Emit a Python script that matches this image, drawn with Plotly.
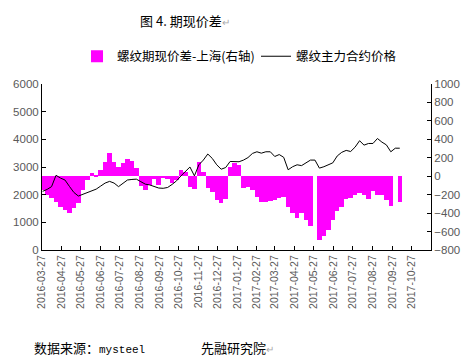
import plotly.graph_objects as go

dates = [
    "2016-03-28", "2016-04-04", "2016-04-11", "2016-04-18", "2016-04-25", "2016-05-02", "2016-05-09", "2016-05-16",
    "2016-05-23", "2016-05-30", "2016-06-06", "2016-06-13", "2016-06-20", "2016-06-27", "2016-07-04", "2016-07-11",
    "2016-07-18", "2016-07-25", "2016-08-01", "2016-08-08", "2016-08-15", "2016-08-22", "2016-08-29", "2016-09-05",
    "2016-09-12", "2016-09-19", "2016-09-26", "2016-10-03", "2016-10-10", "2016-10-17", "2016-10-24", "2016-10-31",
    "2016-11-07", "2016-11-14", "2016-11-21", "2016-11-28", "2016-12-05", "2016-12-12", "2016-12-19", "2016-12-26",
    "2017-01-02", "2017-01-09", "2017-01-16", "2017-01-23", "2017-01-30", "2017-02-06", "2017-02-13", "2017-02-20",
    "2017-02-27", "2017-03-06", "2017-03-13", "2017-03-20", "2017-03-27", "2017-04-03", "2017-04-10", "2017-04-17",
    "2017-04-24", "2017-05-01", "2017-05-08", "2017-05-15", "2017-05-22", "2017-05-29", "2017-06-05", "2017-06-12",
    "2017-06-19", "2017-06-26", "2017-07-03", "2017-07-10", "2017-07-17", "2017-07-24", "2017-07-31", "2017-08-07",
    "2017-08-14", "2017-08-21", "2017-08-28", "2017-09-04", "2017-09-11", "2017-09-18", "2017-09-25", "2017-10-02",
    "2017-10-09",
]

# 螺纹期现价差-上海 (right axis)
basis = [
    -150, -205, -240, -275, -330, -365, -395, -345, -290, -150, -40, 40, 15, 67, 157, 250,
    150, 103, 140, 183, 170, 90, -110, -150, -95, -25, -95, -20, -30, -77, -40, 67,
    50, -114, -140, 150, 50, -130, -170, -260, -290, -250, 100, 140, 120, -130,
    -120, -150, -220, -276, -280, -270, -260, -240, -230, -330, -400, -450, -400, -480,
    -540, None, -690, -650, -580, -470, -380, -330, -250, -240, -200, -180, -200, -250,
    -160, -200, -200, -260, -320, None, -276,
]

# 螺纹主力合约价格 (left axis)
price = [
    2120, 2190, 2290, 2700, 2600, 2530, 2300, 2080, 1950, 2010, 2080, 2120, 2200, 2310, 2420, 2480,
    2420, 2290, 2420, 2530, 2550, 2560, 2470, 2380, 2350, 2300, 2240, 2230, 2260, 2370, 2500, 2680,
    2860, 3000, 2680, 3080, 3250, 3470, 3310, 3080, 2920, 2980, 3200, 3200, 3190, 3250,
    3340, 3490, 3550, 3500, 3550, 3550, 3380, 3450, 3350, 2900, 3010, 3080, 3050, 3150,
    3250, 3250, 2960, 3010, 3070, 3150, 3400, 3530, 3600, 3560, 3720, 3950, 3790, 3850,
    3850, 4030, 3900, 3800, 3550, 3680, 3680,
]

tick_dates = [
    "2016-03-27", "2016-04-27", "2016-05-27", "2016-06-27", "2016-07-27", "2016-08-27", "2016-09-27",
    "2016-10-27", "2016-11-27", "2016-12-27", "2017-01-27", "2017-02-27", "2017-03-27", "2017-04-27",
    "2017-05-27", "2017-06-27", "2017-07-27", "2017-08-27", "2017-09-27", "2017-10-27",
]
tick_labels = list(tick_dates)

left_ticks = [0, 1000, 2000, 3000, 4000, 5000, 6000]
right_ticks = [-800, -600, -400, -200, 0, 200, 400, 600, 800, 1000]

CJK = "Noto Sans CJK SC"
TICKFONT = dict(family="Liberation Sans, Arial, sans-serif", size=11.5, color="#595959")

fig = go.Figure()
fig.add_trace(go.Bar(
    x=dates, y=basis, name="螺纹期现价差-上海(右轴)", yaxis="y",
    marker=dict(color="#FF00FF", line=dict(width=0)),
    width=7 * 86400000,
))
fig.add_trace(go.Scatter(
    x=dates, y=price, name="螺纹主力合约价格", yaxis="y2", mode="lines",
    line=dict(color="black", width=1),
))

fig.update_layout(
    width=472, height=359,
    margin=dict(l=42, r=39, t=84, b=109),
    paper_bgcolor="white", plot_bgcolor="white",
    bargap=0,
    showlegend=True,
    legend=dict(
        orientation="h", x=0.09, y=1.165, xanchor="left", yanchor="middle",
        font=dict(family=CJK, size=12.5, color="black"),
        entrywidth=134, entrywidthmode="pixels",
        itemwidth=30, bgcolor="rgba(0,0,0,0)",
    ),
    xaxis=dict(
        type="date", range=["2016-03-27", "2017-11-27"],
        tickmode="array", tickvals=tick_dates, ticktext=tick_labels,
        tickangle=-90, tickfont=dict(family="Liberation Sans, Arial, sans-serif", size=10.5, color="#595959"),
        showline=True, linecolor="black", linewidth=1,
        ticks="inside", ticklen=4, tickcolor="black",
        showgrid=False, zeroline=False,
    ),
    yaxis=dict(
        side="right", range=[-800, 1000],
        tickmode="array", tickvals=right_ticks,
        tickfont=TICKFONT,
        showline=True, linecolor="black", linewidth=1,
        ticks="inside", ticklen=4, tickcolor="black",
        showgrid=False, zeroline=False,
    ),
    yaxis2=dict(
        side="left", overlaying="y", range=[0, 6000],
        tickmode="array", tickvals=left_ticks,
        tickfont=TICKFONT,
        showline=True, linecolor="black", linewidth=1,
        ticks="inside", ticklen=4, tickcolor="black",
        showgrid=False, zeroline=False,
    ),
    annotations=[
        dict(xref="paper", yref="paper", x=(138 - 42) / 391, y=(250 - 20) / 166,
             xanchor="left", yanchor="middle", showarrow=False,
             text="图 4. 期现价差<span style='color:#aaaaaa;font-size:10px'>↵</span>",
             font=dict(family=CJK, size=13, color="black")),
        dict(xref="paper", yref="paper", x=(32 - 42) / 391, y=(250 - 347) / 166,
             xanchor="left", yanchor="middle", showarrow=False,
             text="数据来源：<span style='font-family:Liberation Mono;font-size:11px'>mysteel</span>",
             font=dict(family=CJK, size=13, color="black")),
        dict(xref="paper", yref="paper", x=(200 - 42) / 391, y=(250 - 347) / 166,
             xanchor="left", yanchor="middle", showarrow=False,
             text="先融研究院<span style='color:#aaaaaa;font-size:10px'>↵</span>",
             font=dict(family=CJK, size=13, color="black")),
    ],
)

fig.write_html("out.html", config={"displayModeBar": False},
               post_script="document.body.style.margin='0';")
